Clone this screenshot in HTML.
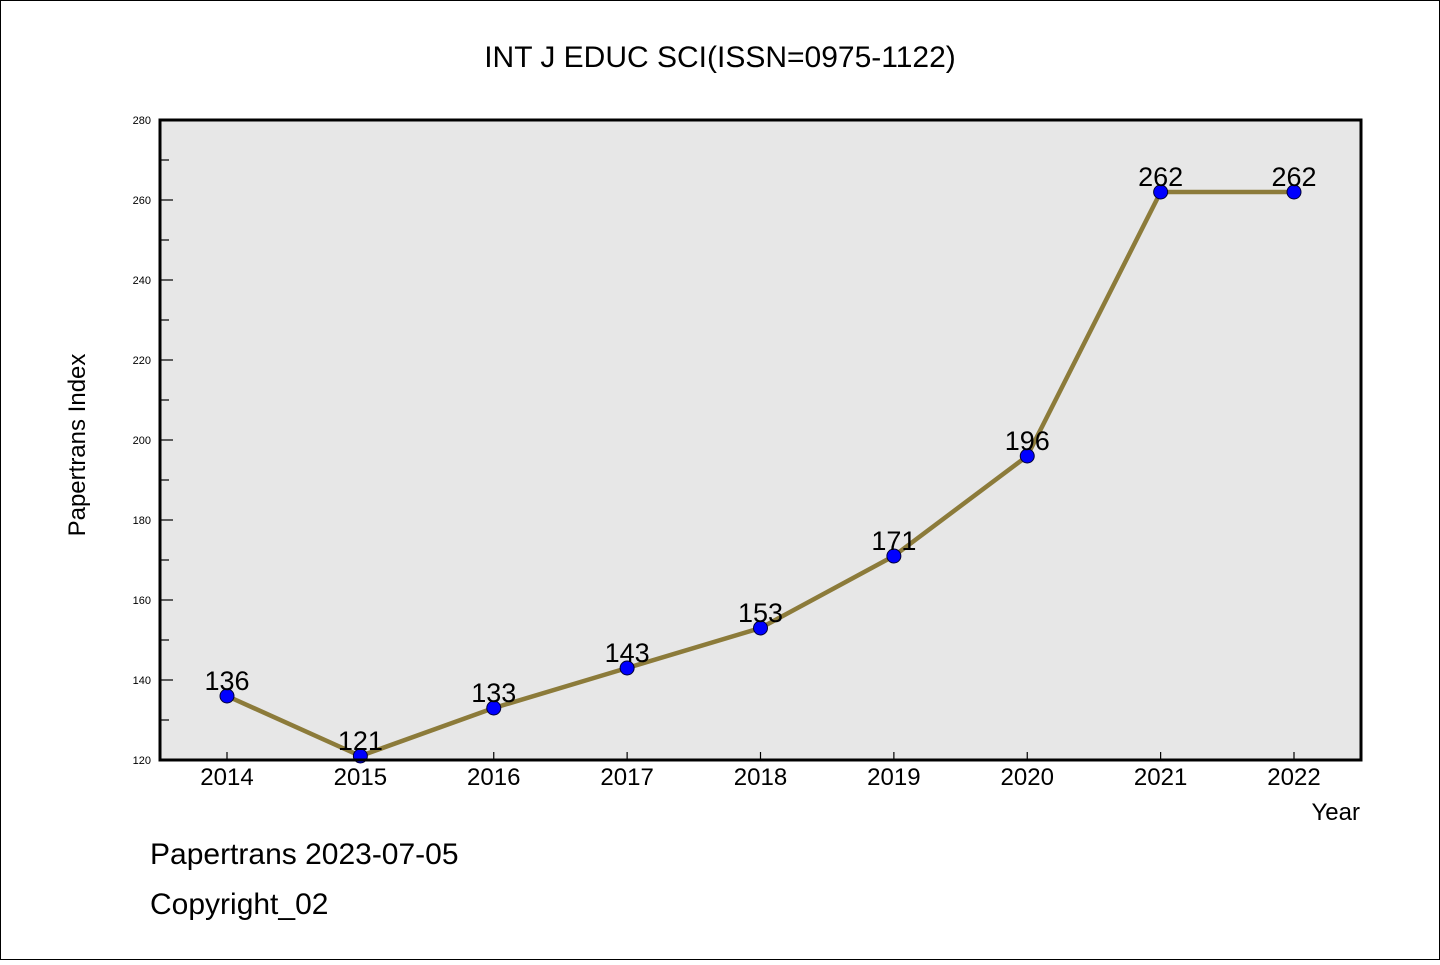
<!DOCTYPE html>
<html><head><meta charset="utf-8"><style>
body{margin:0;background:#fff}
svg text{font-family:"WenQuanYi Zen Hei","Liberation Sans",sans-serif}
</style></head><body>
<svg width="1440" height="960">
<rect x="0.5" y="0.5" width="1439" height="959" fill="#fff" stroke="#000"/>
<text x="720" y="67" font-size="30" text-anchor="middle">INT J EDUC SCI(ISSN=0975-1122)</text>
<rect x="160" y="120" width="1201" height="640" fill="#e7e7e7"/>
<g id="axes"></g>
<g id="marks"></g>
<rect x="160" y="120" width="1201" height="640" fill="none" stroke="#000" stroke-width="3"/>
<text x="85" y="445" font-size="24" text-anchor="middle" transform="rotate(-90 85 445)">Papertrans Index</text>
<text x="1360" y="820" font-size="24" text-anchor="end">Year</text>
<text x="150" y="864" font-size="30">Papertrans 2023-07-05</text>
<text x="150" y="914" font-size="30">Copyright_02</text>
</svg>
<script>
const years=["2014","2015","2016","2017","2018","2019","2020","2021","2022"];
const values=[136,121,133,143,153,171,196,262,262];
const yTicks=[120,140,160,180,200,220,240,260,280];
const NS="http://www.w3.org/2000/svg";
const x=i=>227+i*(1294-227)/(years.length-1);
const y=v=>760-(v-120)*(640/160);
function mk(tag,attrs,parent){const e=document.createElementNS(NS,tag);for(const k in attrs)e.setAttribute(k,attrs[k]);parent.appendChild(e);return e;}
const ax=document.getElementById('axes'),mg=document.getElementById('marks');
yTicks.forEach((t,i)=>{
  const l=mk('line',{x1:160,x2:173,y1:y(t),y2:y(t),stroke:'#000','stroke-width':1.2},ax);
  
  
  const tx=mk('text',{x:151,y:y(t)+4,'font-size':11,'text-anchor':'end'},ax);tx.textContent=t;
  
  
  if(i<yTicks.length-1){const m=mk('line',{x1:160,x2:169,y1:y(t+10),y2:y(t+10),stroke:'#000','stroke-width':1.2},ax);
  
  }
});
years.forEach((yr,i)=>{
  const l=mk('line',{x1:x(i),x2:x(i),y1:760,y2:752,stroke:'#000','stroke-width':1.2},ax);
  
  
  const tx=mk('text',{x:x(i),y:785,'font-size':24,'text-anchor':'middle'},ax);tx.textContent=yr;
  
  
});
const pl=mk('polyline',{points:values.map((v,i)=>x(i)+','+y(v)).join(' '),fill:'none',stroke:'#8c7b3a','stroke-width':4.5},mg);


values.forEach((v,i)=>{
  const c=mk('circle',{cx:x(i),cy:y(v),r:7,fill:'#0000ff',stroke:'#000033','stroke-width':1},mg);
  
  
  const t=mk('text',{x:x(i),y:y(v)-6,'font-size':27,'text-anchor':'middle'},mg);t.textContent=v;
  
  
});
</script>
</body></html>
